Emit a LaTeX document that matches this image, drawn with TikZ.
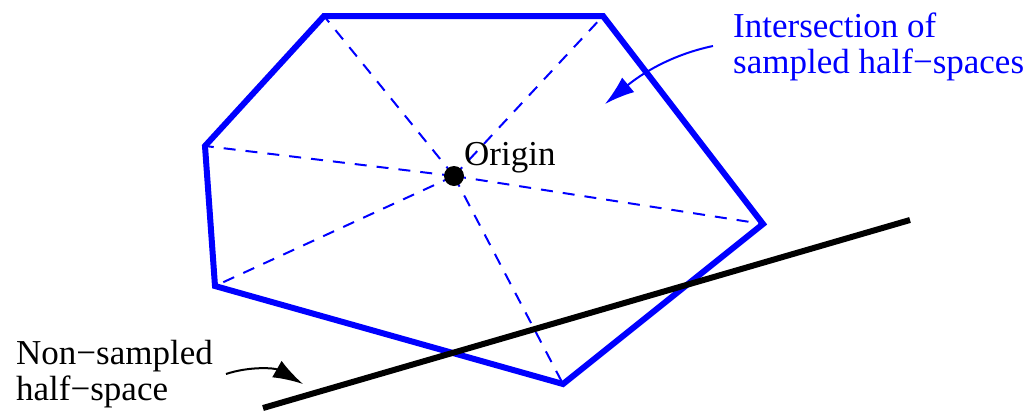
\documentclass[tikz,border=0pt]{standalone}
\usepackage{fontspec}
\setmainfont{Liberation Serif}
\usetikzlibrary{arrows.meta}
\begin{document}
\begin{tikzpicture}[x=1pt,y=-1pt,
  poly/.style={draw=blue,line width=6pt,line join=miter},
  ray/.style={draw=blue,line width=2pt,dash pattern=on 12pt off 10pt},
  halfline/.style={draw=black,line width=6pt},
  lbl/.style={inner sep=0pt,anchor=base west,font=\fontsize{35}{36}\selectfont},
  callout/.style={line width=2pt,-{Latex[length=30pt,width=19pt]}}]
\useasboundingbox (0,0) rectangle (1031,410);
\coordinate (A) at (324,16);
\coordinate (B) at (603,16);
\coordinate (C) at (763,224);
\coordinate (D) at (563,384);
\coordinate (E) at (215,286);
\coordinate (F) at (205,146);
\coordinate (O) at (454,176);
\foreach \v in {A,B,C,D,E,F} \draw[ray] (O) -- (\v);
\draw[poly] (A) -- (B) -- (C) -- (D) -- (E) -- (F) -- cycle;
\node[circle,fill=black,minimum size=20pt,inner sep=0pt] (orig) at (O) {};
\node[lbl] (origlbl) at (464,165) {Origin};
\coordinate (H1) at (263,408);
\coordinate (H2) at (910,220);
\draw[halfline] (H1) -- (H2);
\node[lbl,text=blue] (inter1) at (733,37) {Intersection of};
\node[lbl,text=blue] (inter2) at (733,73) {sampled half−spaces};
\node[lbl] (nons1) at (16,364) {Non−sampled};
\node[lbl] (nons2) at (16,400) {half−space};
\coordinate (bs) at (713,46);
\coordinate (bt) at (605,104);
\draw[callout,draw=blue] (bs) .. controls (670,55) and (640,75) .. (bt);
\coordinate (ks) at (226,374);
\coordinate (kt) at (303,384);
\draw[callout,draw=black] (ks) .. controls (250,366) and (275,368) .. (kt);
\end{tikzpicture}
\end{document}
